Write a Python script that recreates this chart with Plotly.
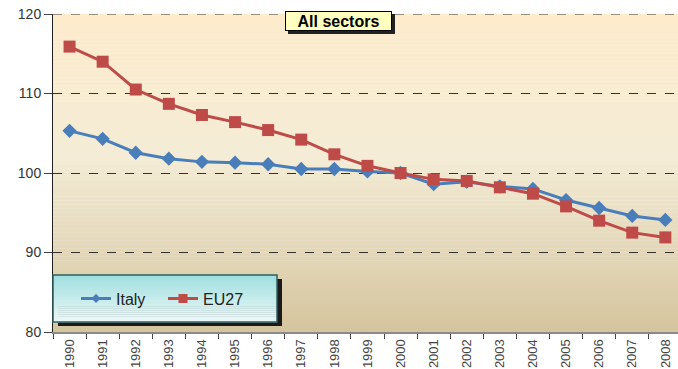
import plotly.graph_objects as go

years = [str(y) for y in range(1990, 2009)]
italy = [105.3, 104.3, 102.55, 101.8, 101.4, 101.3, 101.1, 100.5, 100.5, 100.2,
         100.0, 98.6, 98.9, 98.3, 98.0, 96.6, 95.6, 94.6, 94.1]
eu27 = [115.9, 114.0, 110.5, 108.7, 107.3, 106.4, 105.4, 104.2, 102.35, 100.9,
        100.0, 99.2, 99.0, 98.2, 97.4, 95.8, 94.0, 92.5, 91.9]
y_ticks = [80, 90, 100, 110, 120]
title_text = "All sectors"

W, H = 678, 369
L, T, B = 53, 14, 37
PW = W - L
PH = H - T - B

BLUE = "#4A7EBB"
RED = "#BE4B48"
FONT = "Liberation Sans, Arial"


def px(x):
    return (x - L) / PW


def py(y):
    return (H - B - y) / PH


fig = go.Figure()
fig.add_trace(go.Scatter(x=years, y=italy, name="Italy", mode="lines+markers", showlegend=False,
                         line=dict(color=BLUE, width=3),
                         marker=dict(symbol="diamond", size=11, color=BLUE)))
fig.add_trace(go.Scatter(x=years, y=eu27, name="EU27", mode="lines+markers", showlegend=False,
                         line=dict(color=RED, width=3),
                         marker=dict(symbol="square", size=12, color=RED)))
# legend entries (smaller symbols, as in the original legend)
fig.add_trace(go.Scatter(x=[None], y=[None], name="Italy", mode="lines+markers",
                         line=dict(color=BLUE, width=3),
                         marker=dict(symbol="diamond", size=7, color=BLUE)))
fig.add_trace(go.Scatter(x=[None], y=[None], name="EU27", mode="lines+markers",
                         line=dict(color=RED, width=3),
                         marker=dict(symbol="square", size=9, color=RED)))

shapes = []
stops = [(0.0, (253, 235, 204)), (0.45, (244, 236, 214)), (1.0, (213, 197, 158))]
N = 80


def grad(t, stops):
    for i in range(len(stops) - 1):
        t0, c0 = stops[i]
        t1, c1 = stops[i + 1]
        if t0 <= t <= t1:
            f = (t - t0) / (t1 - t0)
            return tuple(int(round(c0[k] + (c1[k] - c0[k]) * f)) for k in range(3))
    return stops[-1][1]


for i in range(N):
    t = (i + 0.5) / N
    c = grad(t, stops)
    shapes.append(dict(type="rect", xref="paper", yref="paper", x0=0, x1=1,
                       y0=1 - (i + 1) / N, y1=1 - i / N + 0.001, layer="below",
                       line=dict(width=0), fillcolor="rgb(%d,%d,%d)" % c))

# top dashed gridline
shapes.append(dict(type="line", xref="paper", yref="y", x0=0, x1=1, y0=120, y1=120,
                   layer="below", line=dict(color="#333", width=1, dash="dash")))

# legend shadow and gradient box
lx0, lx1, ly0, ly1 = 53, 277, 275, 322
shapes.append(dict(type="rect", xref="paper", yref="paper", x0=px(lx0 + 5), x1=px(lx1 + 5),
                   y0=py(ly1 + 4), y1=py(ly0 + 4), layer="above", line=dict(width=0),
                   fillcolor="#1a1a1a"))
lstops = [(0.0, (160, 222, 222)), (1.0, (236, 248, 248))]
LN = 24
for i in range(LN):
    t = (i + 0.5) / LN
    c = grad(t, lstops)
    ya = ly0 + (ly1 - ly0) * i / LN
    yb = ly0 + (ly1 - ly0) * (i + 1) / LN
    shapes.append(dict(type="rect", xref="paper", yref="paper", x0=px(lx0), x1=px(lx1),
                       y0=py(yb + 0.5), y1=py(ya), layer="above", line=dict(width=0),
                       fillcolor="rgb(%d,%d,%d)" % c))
shapes.append(dict(type="rect", xref="paper", yref="paper", x0=px(lx0), x1=px(lx1),
                   y0=py(ly1), y1=py(ly0), layer="above",
                   line=dict(width=1.5, color="#2E6060"), fillcolor="rgba(0,0,0,0)"))

# title shadow
tx0, tx1, ty0, ty1 = 285, 392, 11, 31
shapes.append(dict(type="rect", xref="paper", yref="paper", x0=px(tx0 + 3), x1=px(tx1 + 3),
                   y0=py(ty1 + 3), y1=py(ty0 + 3), layer="above", line=dict(width=0),
                   fillcolor="#222222"))

fig.update_layout(
    width=W, height=H,
    margin=dict(l=L, r=0, t=T, b=B, autoexpand=False),
    paper_bgcolor="white",
    plot_bgcolor="rgba(0,0,0,0)",
    shapes=shapes,
    showlegend=True,
    legend=dict(orientation="h", x=px(76), y=py(298.5), xanchor="left", yanchor="middle",
                bgcolor="rgba(0,0,0,0)", borderwidth=0, entrywidth=42,
                font=dict(family=FONT, size=16, color="#222")),
    annotations=[dict(text="<b>%s</b>" % title_text, xref="paper", yref="paper",
                      x=px((tx0 + tx1) / 2), y=py((ty0 + ty1) / 2),
                      xanchor="center", yanchor="middle", showarrow=False,
                      font=dict(family=FONT, size=16, color="black"),
                      bgcolor="#FFFFC0", bordercolor="black", borderwidth=1,
                      width=tx1 - tx0 - 2, height=ty1 - ty0 - 2, borderpad=0)],
)

fig.update_xaxes(type="category", range=[-0.5, PW / 33.1 - 0.5], automargin=False,
                 showline=True, linecolor="#8a8a8a", linewidth=2,
                 ticks="outside", tickson="boundaries", ticklen=5, tickcolor="#444",
                 tickangle=-90, showgrid=False, ticklabelstandoff=0,
                 tickfont=dict(family="Liberation Sans Narrow, Liberation Sans, Arial",
                               size=13, color="#444"))
fig.update_yaxes(range=[80, 120], tickvals=y_ticks, automargin=False,
                 showline=True, linecolor="#222", linewidth=1,
                 ticks="outside", ticklen=8, tickcolor="#444",
                 showgrid=True, gridcolor="#333", griddash="dash", gridwidth=1,
                 zeroline=False,
                 tickfont=dict(family=FONT, size=14, color="#333"))

fig.write_html("out.html")
